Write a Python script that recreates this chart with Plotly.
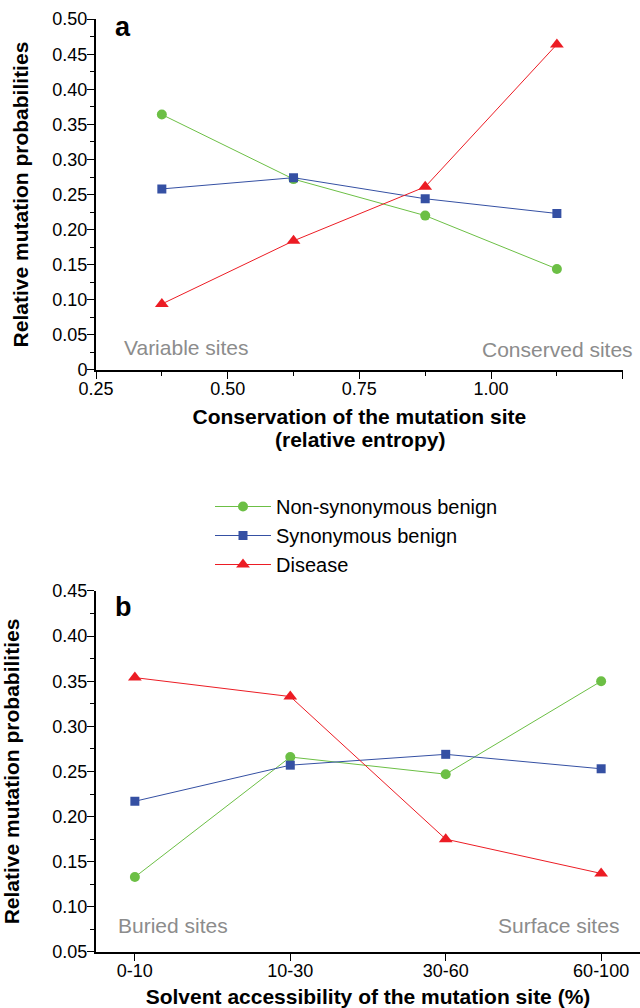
import plotly.graph_objects as go

# ---- data ----
series_names = ["Non-synonymous benign", "Synonymous benign", "Disease"]
conservation_x = [0.375, 0.625, 0.875, 1.125]
cons_nonsyn = [0.364, 0.272, 0.220, 0.144]
cons_syn = [0.258, 0.274, 0.244, 0.223]
cons_disease = [0.094, 0.184, 0.261, 0.464]

access_cats = ["0-10", "10-30", "30-60", "60-100"]
acc_nonsyn = [0.133, 0.266, 0.247, 0.350]
acc_syn = [0.217, 0.257, 0.269, 0.253]
acc_disease = [0.354, 0.333, 0.175, 0.137]

top_yticks = [0, 0.05, 0.10, 0.15, 0.20, 0.25, 0.30, 0.35, 0.40, 0.45, 0.50]
top_yticklabels = ["0", "0.05", "0.10", "0.15", "0.20", "0.25", "0.30", "0.35", "0.40", "0.45", "0.50"]
bot_yticks = [0.05, 0.10, 0.15, 0.20, 0.25, 0.30, 0.35, 0.40, 0.45]
bot_yticklabels = ["0.05", "0.10", "0.15", "0.20", "0.25", "0.30", "0.35", "0.40", "0.45"]

colors = ["#6cbf45", "#3550a3", "#ec1c24"]
symbols = ["circle", "square", "triangle-up"]
sizes = [10, 9, 12]

FONT = "Liberation Sans, Arial, Helvetica, sans-serif"
TICK = 18
TITLE = 21

fig = go.Figure()

top_data = [cons_nonsyn, cons_syn, cons_disease]
bot_data = [acc_nonsyn, acc_syn, acc_disease]

for i in range(3):
    fig.add_trace(go.Scatter(
        x=conservation_x, y=top_data[i], mode="lines+markers", name=series_names[i],
        line=dict(color=colors[i], width=1),
        marker=dict(color=colors[i], symbol=symbols[i], size=sizes[i]),
        xaxis="x", yaxis="y", showlegend=True, legendgroup=series_names[i]))
for i in range(3):
    fig.add_trace(go.Scatter(
        x=access_cats, y=bot_data[i], mode="lines+markers", name=series_names[i],
        line=dict(color=colors[i], width=1),
        marker=dict(color=colors[i], symbol=symbols[i], size=sizes[i]),
        xaxis="x2", yaxis="y2", showlegend=False, legendgroup=series_names[i]))

axis_common = dict(showline=True, linecolor="black", linewidth=2, ticks="outside",
                   ticklen=7, tickwidth=1.2, tickcolor="black", showgrid=False, zeroline=False,
                   automargin=False,
                   tickfont=dict(family=FONT, size=TICK, color="black"))

fig.update_layout(
    width=640, height=1008,
    margin=dict(l=0, r=0, t=0, b=0),
    paper_bgcolor="white", plot_bgcolor="white",
    font=dict(family=FONT, color="black"),
    xaxis=dict(domain=[0.15, 0.973], range=[0.25, 1.25], dtick=0.25, tick0=0.25,
               tickformat=".2f", anchor="y", ticklabelstandoff=-6,
               minor=dict(dtick=0.125, tick0=0.25, ticklen=4, ticks="outside", tickcolor="black"),
               title=dict(text="<b>Conservation of the mutation site</b>",
                          font=dict(family=FONT, size=TITLE), standoff=12),
               **axis_common),
    yaxis=dict(domain=[0.633, 0.981], range=[0, 0.5], tickvals=top_yticks, ticktext=top_yticklabels,
               anchor="x", ticklabelstandoff=-4,
               minor=dict(dtick=0.025, tick0=0, ticklen=4, ticks="outside", tickcolor="black"),
               title=dict(text="<b>Relative mutation probabilities</b>",
                          font=dict(family=FONT, size=TITLE), standoff=18),
               **axis_common),
    xaxis2=dict(domain=[0.15, 1.0], range=[-0.25, 3.25], type="category", anchor="y2",
                ticklabelstandoff=-6,
                title=dict(text="<b>Solvent accessibility of the mutation site (%)</b>",
                           font=dict(family=FONT, size=TITLE), standoff=13),
                **axis_common),
    yaxis2=dict(domain=[0.0556, 0.4137], range=[0.05, 0.45], tickvals=bot_yticks, ticktext=bot_yticklabels,
                anchor="x2", ticklabelstandoff=-4,
                minor=dict(dtick=0.025, tick0=0.05, ticklen=4, ticks="outside", tickcolor="black"),
                title=dict(text="<b>Relative mutation probabilities</b>",
                           font=dict(family=FONT, size=TITLE), standoff=36),
                **axis_common),
    legend=dict(x=210/640, y=1-487/1008, xanchor="left", yanchor="top",
                font=dict(family=FONT, size=20, color="black"), bgcolor="rgba(0,0,0,0)",
                tracegroupgap=0, itemwidth=56),
)

# second line of the top x-axis title
fig.add_annotation(text="<b>(relative entropy)</b>", x=359.5/640, y=1-439/1008,
                   xref="paper", yref="paper", xanchor="center", yanchor="middle",
                   showarrow=False, font=dict(family=FONT, size=TITLE, color="black"))

gray = "#8c8c8c"
for txt, px, py in [("<b>a</b>", 113, 27), ("<b>b</b>", 113, 607)]:
    fig.add_annotation(text=txt, x=px/640, y=1-py/1008, xref="paper", yref="paper",
                       xanchor="left", yanchor="middle", showarrow=False,
                       font=dict(family=FONT, size=27, color="black"))

for txt, px, py, anc in [("Variable sites", 122, 347, "left"),
                         ("Conserved sites", 635, 349, "right"),
                         ("Buried sites", 116, 925, "left"),
                         ("Surface sites", 621, 925, "right")]:
    fig.add_annotation(text=txt, x=px/640, y=1-py/1008, xref="paper", yref="paper",
                       xanchor=anc, yanchor="middle", showarrow=False,
                       font=dict(family=FONT, size=21, color=gray))

fig.write_html("out.html", config={"displayModeBar": False},
               post_script="document.body.style.margin='0px';")
